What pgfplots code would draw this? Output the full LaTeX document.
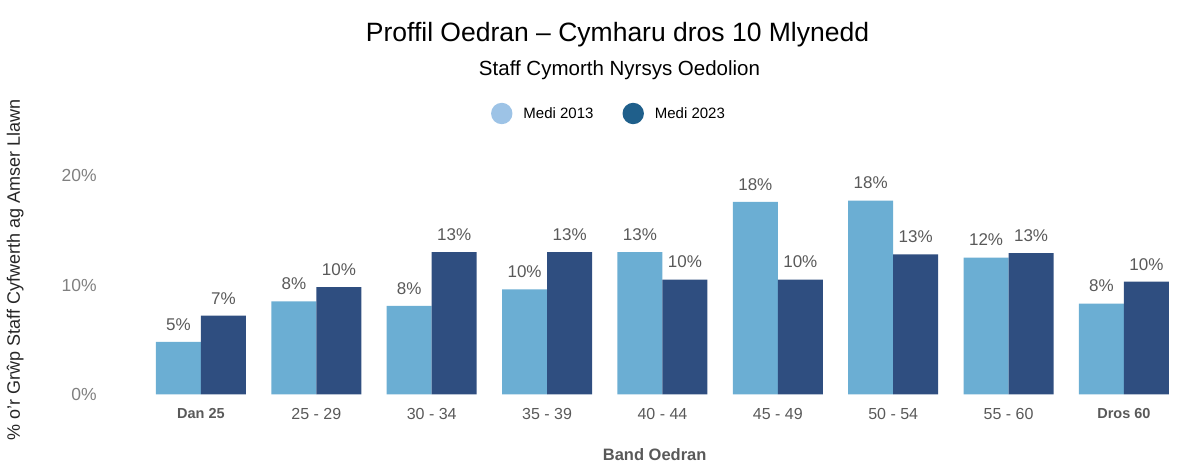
\documentclass[border=0pt]{standalone}
\usepackage{fontspec}
\setmainfont{Liberation Sans}
\usepackage{pgfplots}
\pgfplotsset{compat=1.18}
\definecolor{barLight}{HTML}{6BAED3}
\definecolor{barDark}{HTML}{2F4E80}
\definecolor{legLight}{HTML}{9DC3E6}
\definecolor{legDark}{HTML}{1F5F8B}
\definecolor{lblGray}{HTML}{595959}
\definecolor{tickGray}{HTML}{808080}
\begin{document}
\begin{tikzpicture}
\useasboundingbox (0,0) rectangle (1198pt,465pt);
\begin{axis}[
  at={(143.3pt,70.5pt)}, anchor=south west,
  scale only axis, width=1038.4pt, height=219pt,
  xmin=-0.5, xmax=8.5, ymin=0, ymax=20,
  clip=false,
  axis line style={draw=none},
  major tick length=0pt,
  ybar=0pt, bar width=45pt,
  /pgf/number format/assume math mode=true,
  ytick={0,10,20},
  yticklabel={\pgfmathprintnumber{\tick}\%},
  yticklabel style={font=\fontsize{17.5}{18}\selectfont, text=tickGray, xshift=-43pt},
  xtick={0,1,2,3,4,5,6,7,8},
  xticklabels={{\bfseries\fontsize{14.5}{15}\selectfont\raisebox{-3pt}{Dan 25}},25 - 29,30 - 34,35 - 39,40 - 44,45 - 49,50 - 54,55 - 60,{\bfseries\fontsize{14.5}{15}\selectfont\raisebox{-6pt}{Dros 60}}},
  xticklabel style={font=\fontsize{16}{17}\selectfont, text=lblGray, yshift=-10pt},
  xlabel={Band Oedran},
  xlabel style={font=\bfseries\fontsize{16.5}{17}\selectfont, text=lblGray, at={(axis description cs:0.4925,0)}, anchor=center, yshift=-60pt},
  ylabel={\% o'r Grŵp Staff Cyfwerth ag Amser Llawn},
  ylabel style={font=\fontsize{18}{19}\selectfont, text=black!85, at={(axis description cs:-0.1233,0.568)}, anchor=center},
  point meta=explicit symbolic,
  nodes near coords={\pgfplotspointmeta\%},
  every node near coord/.append style={font=\fontsize{17}{18}\selectfont, text=lblGray, yshift=8pt},
  legend columns=2,
  legend style={at={(axis description cs:0.4485,1)}, anchor=center, yshift=62pt, draw=none, fill=none,
    font=\fontsize{15}{16}\selectfont,
    /tikz/every even column/.append style={column sep=27pt},
    /tikz/every odd column/.append style={column sep=9pt}},
]
\addplot[fill=barLight, draw=none,
  legend image code/.code={\fill[legLight] (0pt,0pt) circle (10.7pt);}]
  coordinates {(0,4.8)[5] (1,8.5)[8] (2,8.1)[8] (3,9.6)[10] (4,13.0)[13] (5,17.6)[18] (6,17.7)[18] (7,12.5)[12] (8,8.3)[8]};
\addlegendentry{Medi 2013}
\addplot[fill=barDark, draw=none,
  legend image code/.code={\fill[legDark] (0pt,0pt) circle (10.7pt);}]
  coordinates {(0,7.2)[7] (1,9.8)[10] (2,13.0)[13] (3,13.0)[13] (4,10.5)[10] (5,10.5)[10] (6,12.8)[13] (7,12.9)[13] (8,10.3)[10]};
\addlegendentry{Medi 2023}
\end{axis}
\node[anchor=base, font=\fontsize{26.5}{27}\selectfont] at (617.5pt,423.3pt) {Proffil Oedran – Cymharu dros 10 Mlynedd};
\node[anchor=base, font=\fontsize{20.5}{21}\selectfont] at (619.5pt,389.3pt) {Staff Cymorth Nyrsys Oedolion};
\end{tikzpicture}
\end{document}
